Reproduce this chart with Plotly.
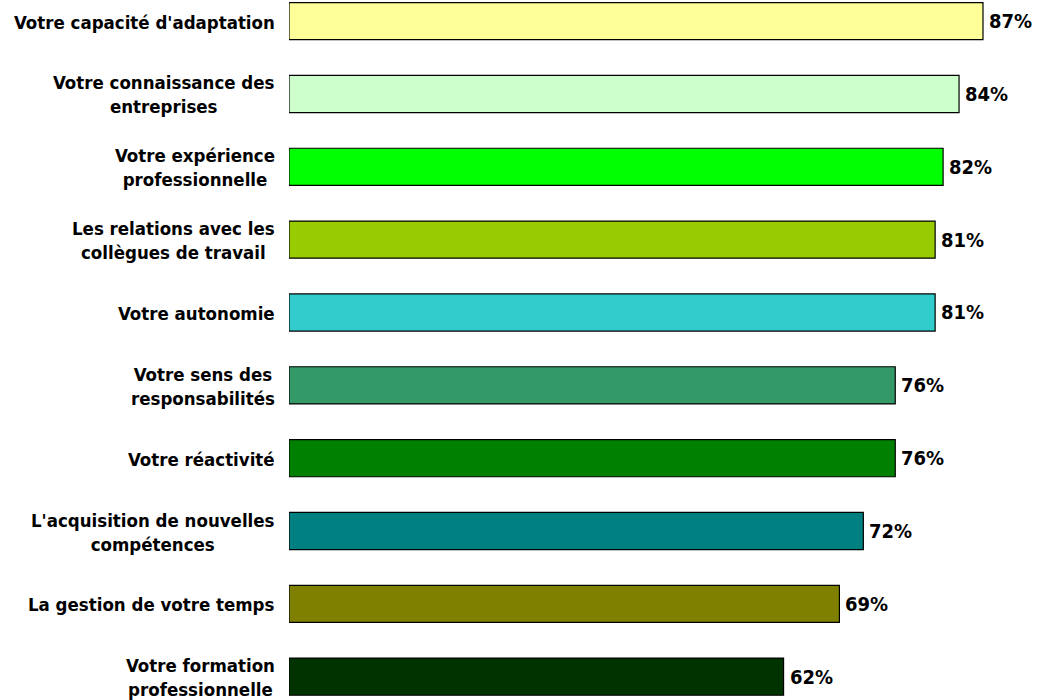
import plotly.graph_objects as go

# Survey items (top to bottom) and share of respondents, in percent
categories = [
    "Votre capacité d'adaptation",
    "Votre connaissance des<br>entreprises",
    "Votre expérience<br>professionnelle",
    "Les relations avec les<br>collègues de travail",
    "Votre autonomie",
    "Votre sens des<br>responsabilités",
    "Votre réactivité",
    "L'acquisition de nouvelles<br>compétences",
    "La gestion de votre temps",
    "Votre formation<br>professionnelle",
]
values = [87, 84, 82, 81, 81, 76, 76, 72, 69, 62]
colors = [
    "#FFFF99", "#CCFFCC", "#00FF00", "#99CC00", "#33CCCC",
    "#339966", "#008000", "#008080", "#808000", "#003300",
]

font_family = "DejaVu Sans Condensed, DejaVu Sans, sans-serif"

fig = go.Figure(
    go.Bar(
        x=values,
        y=categories,
        orientation="h",
        width=0.51,
        marker=dict(color=colors, line=dict(color="#000000", width=1.2)),
        hoverinfo="skip",
    )
)

# Category labels: right-aligned block next to the bars, lines centred
for cat in categories:
    fig.add_annotation(
        x=0, y=cat, xref="x", yref="y",
        text=f"<b>{cat}</b>",
        xanchor="right", yanchor="middle", align="center",
        xshift=-12, yshift=-1,
        showarrow=False,
        font=dict(family=font_family, size=18.5, color="#000000"),
    )

# Percentage labels just past the end of each bar
for cat, v in zip(categories, values):
    fig.add_annotation(
        x=v, y=cat, xref="x", yref="y",
        text=f"<b>{v}%</b>",
        xanchor="left", yanchor="middle",
        xshift=4, yshift=0,
        showarrow=False,
        font=dict(family=font_family, size=20, color="#000000"),
    )

fig.update_layout(
    width=1050,
    height=700,
    margin=dict(l=289, r=0, t=0, b=0),
    paper_bgcolor="#FFFFFF",
    plot_bgcolor="#FFFFFF",
    showlegend=False,
)

fig.update_xaxes(
    range=[0, 95.4],
    showticklabels=False,
    showgrid=False,
    zeroline=False,
    showline=False,
)

fig.update_yaxes(
    categoryorder="array",
    categoryarray=categories,
    range=[9.32, -0.29],
    showgrid=False,
    zeroline=False,
    showline=False,
    ticks="",
    showticklabels=False,
)

fig.write_html("out.html")
